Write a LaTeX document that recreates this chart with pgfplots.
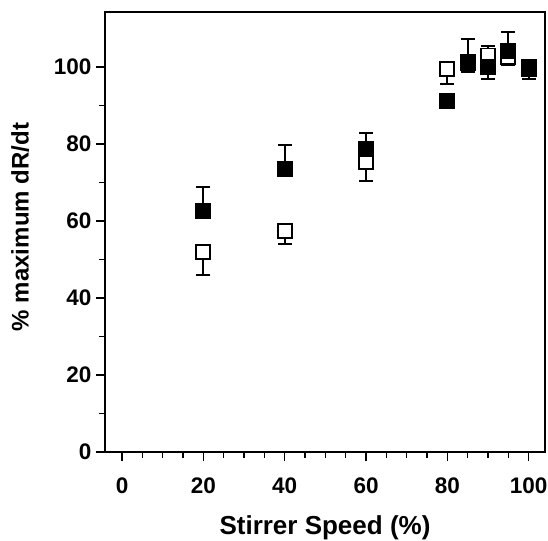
\documentclass[border=0pt]{standalone}
\usepackage{fontspec}
\setmainfont{Liberation Sans}
\usepackage{pgfplots}
\pgfplotsset{compat=1.18}

\begin{document}
\begin{tikzpicture}
\begin{axis}[
    scale only axis,
    width=440pt, height=440pt,
    xmin=-4.2, xmax=104, ymin=0, ymax=114.3,
    xtick={0,20,...,100}, minor x tick num=3,
    ytick={0,20,...,100}, minor y tick num=1,
    xtick pos=left, ytick pos=left,
    tick align=outside,
    major tick length=9pt, minor tick length=6pt,
    tick style={black, line width=1.3pt},
    axis line style={line width=1.3pt},
    /pgf/number format/assume math mode=true,
    tick label style={font=\fontsize{22.5}{22.5}\selectfont\bfseries},
    xticklabel style={yshift=-13pt, inner xsep=0pt},
    yticklabel style={xshift=-1pt},
    xlabel={Stirrer Speed (\%)},
    ylabel={\% maximum dR/dt},
    xlabel style={font=\fontsize{26}{26}\selectfont\bfseries, inner sep=0pt, yshift=-19pt},
    ylabel style={font=\fontsize{24}{24}\selectfont\bfseries, yshift=18pt, xshift=5pt},
    clip=false,
    after end axis/.code={
        \path (rel axis cs:0,1) ++(-105pt,12pt);
        \path (rel axis cs:1,0) ++(3pt,-88pt);
    },
]
% open squares, error bars downward
\addplot[only marks, mark=square*, mark size=7pt,
    mark options={fill=white, draw=black, line width=1.9pt},
    error bars/.cd, y dir=minus, y explicit,
    error bar style={line width=2pt, black},
    error mark options={rotate=90, mark size=7pt, line width=2pt, black}]
    table[x=x, y=y, y error=e] {
x y e
20 52.0 6.0
40 57.4 3.4
60 75.4 4.9
80 99.5 3.9
85 101.0 2.4
90 103.0 6.2
95 102.5 2.0
100 100.0 3.0
};
% filled squares, error bars upward
\addplot[only marks, mark=square*, mark size=7pt,
    mark options={fill=black, draw=black, line width=1.9pt},
    error bars/.cd, y dir=plus, y explicit,
    error bar style={line width=2pt, black},
    error mark options={rotate=90, mark size=7pt, line width=2pt, black}]
    table[x=x, y=y, y error=e] {
x y e
20 62.6 6.2
40 73.5 6.2
60 78.7 4.2
80 91.2 0
85 101.4 6.0
90 100.0 5.5
95 104.2 5.0
100 99.5 0
};
\end{axis}
\end{tikzpicture}
\end{document}
